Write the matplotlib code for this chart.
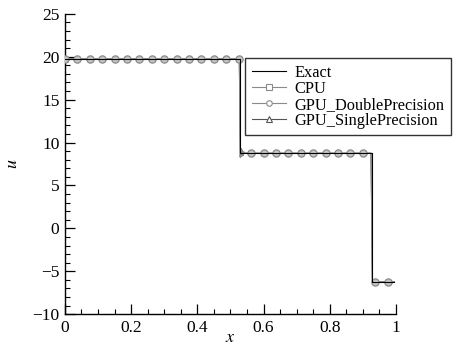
import matplotlib.pyplot as plt
import numpy as np

plt.rcParams["font.family"] = ["Liberation Serif", "DejaVu Serif"]
plt.rcParams["mathtext.fontset"] = "stix"

# exact solution (piecewise constant)
x_exact = [0.0, 0.529, 0.529, 0.927, 0.927, 0.995]
u_exact = [19.75, 19.75, 8.75, 8.75, -6.24, -6.24]

# numerical solution line, with small oscillation after first shock
x_num = [0.0, 0.527, 0.530, 0.532, 0.534, 0.536, 0.538, 0.540, 0.545, 0.925, 0.929, 0.995]
u_num = [19.75, 19.75, 8.3, 9.3, 8.4, 9.1, 8.5, 8.9, 8.75, 8.75, -6.24, -6.24]

# marker samples (every 15th cell)
x_mark = [i * 0.0375 for i in range(27)]
u_mark = [19.75] * 15 + [8.75] * 10 + [-6.24] * 2

fig = plt.figure(figsize=(4.54, 3.46), dpi=100)
ax = fig.add_axes([0.143, 0.092, 0.729, 0.868])

ax.plot(x_exact, u_exact, color="black", lw=0.8, label="Exact", zorder=5)
series = [
    ("CPU", "s", "#8a8a8a", 3, 3.4),
    ("GPU_DoublePrecision", "o", "#8a8a8a", 4, 5.2),
    ("GPU_SinglePrecision", "^", "#555555", 2, 3.4),
]
for name, mk, col, z, ms in series:
    ax.plot(x_num, u_num, color=col, lw=0.8, zorder=z)
    ax.plot(x_mark, u_mark, ls="none", marker=mk, ms=ms, mfc="#c4c4c4",
            mec=col, mew=0.9, zorder=z)
    ax.plot([], [], color=col, lw=0.8, marker=mk, ms=4.0, mfc="white",
            mec=col, mew=0.8, label=name)

ax.set_xlim(0, 1)
ax.set_ylim(-10, 25)
ax.set_xticks([0, 0.2, 0.4, 0.6, 0.8, 1])
ax.set_xticklabels(["0", "0.2", "0.4", "0.6", "0.8", "1"])
ax.set_xticks(np.arange(0, 1.001, 0.05), minor=True)
ax.set_yticks(range(-10, 26, 5))
ax.set_yticklabels(["\u221210", "\u22125", "0", "5", "10", "15", "20", "25"])
ax.set_yticks(range(-10, 26), minor=True)
ax.tick_params(which="major", direction="in", length=7, width=0.9, labelsize=12.5, pad=4)
ax.tick_params(which="minor", direction="in", length=3.5, width=0.8)
ax.spines["top"].set_visible(False)
ax.spines["right"].set_visible(False)
for s in ("left", "bottom"):
    ax.spines[s].set_linewidth(1.0)

ax.set_xlabel("$x$", fontsize=13, labelpad=-5)
ax.set_ylabel("$u$", fontsize=13, labelpad=8)

leg = ax.legend(loc="upper left", bbox_to_anchor=(0.54, 0.832),
                bbox_transform=fig.transFigure, fontsize=11.8, frameon=True,
                fancybox=False, edgecolor="black", handlelength=2.1,
                borderpad=0.4, labelspacing=0.0, handletextpad=0.5,
                borderaxespad=0.0)
leg.get_frame().set_linewidth(1.0)

fig.savefig("out.png", dpi=100)
